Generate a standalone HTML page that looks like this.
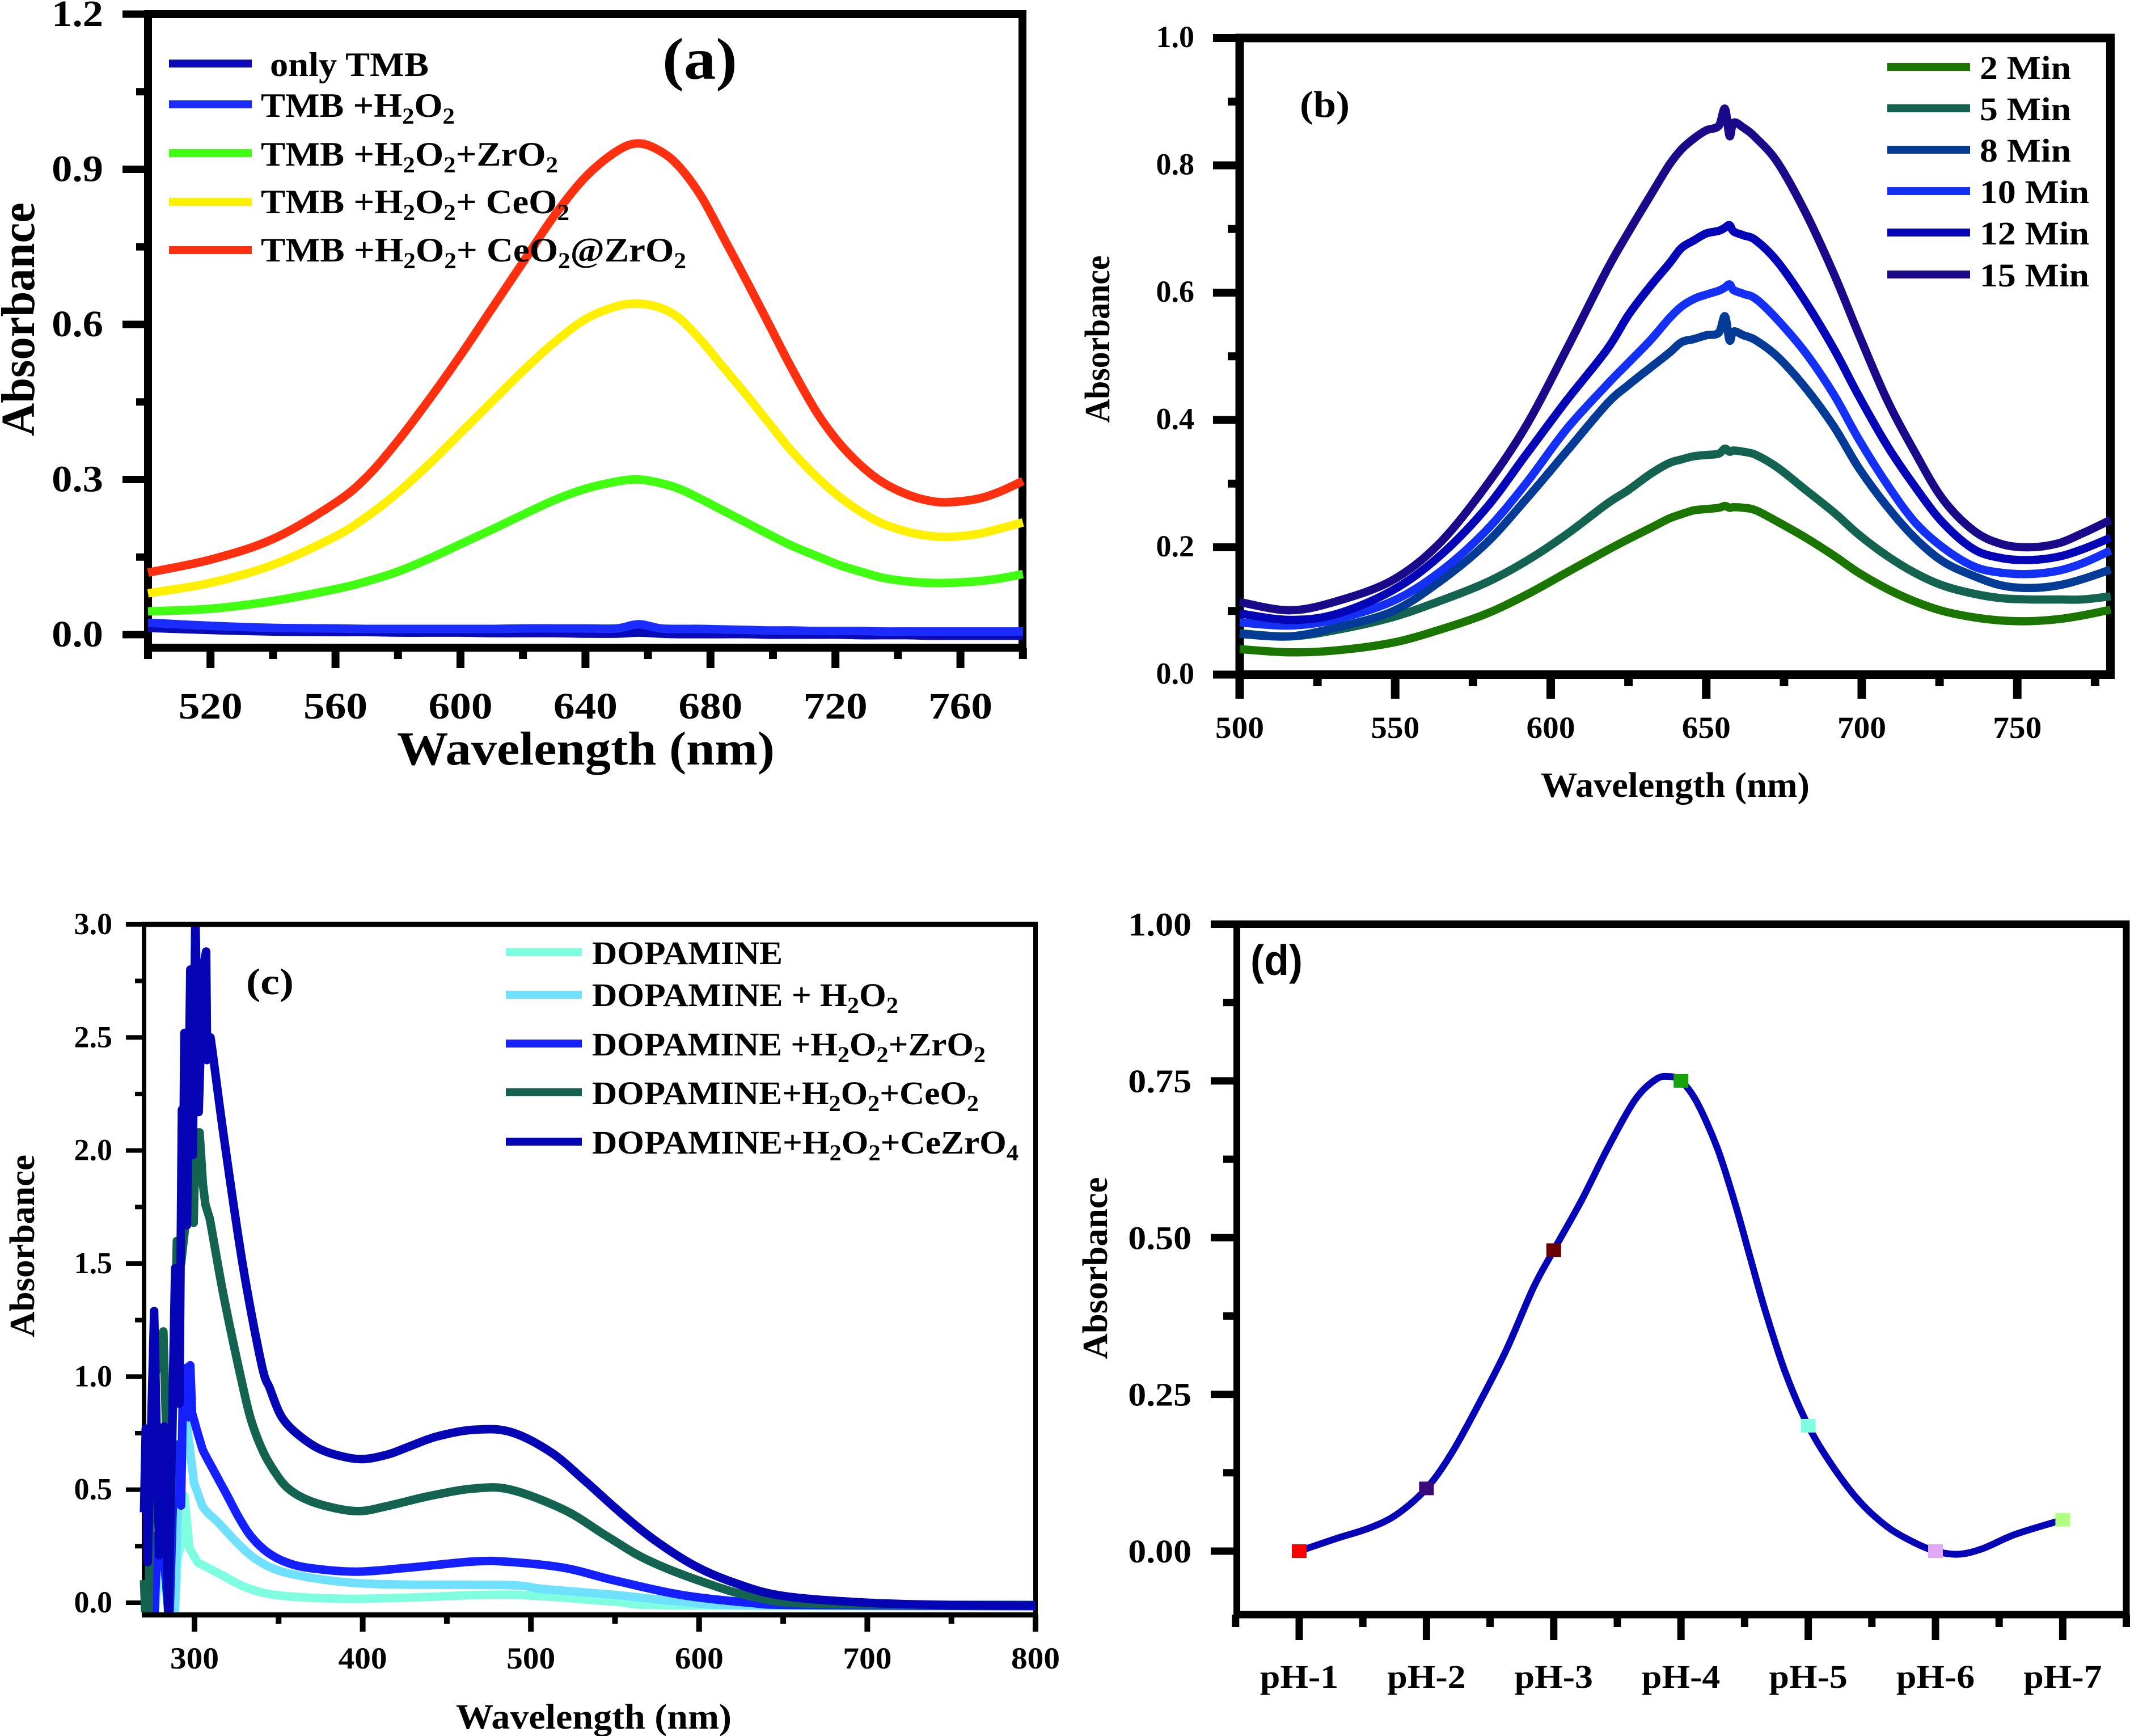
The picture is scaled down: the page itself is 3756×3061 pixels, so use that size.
<!DOCTYPE html>
<html lang="en">
<head>
<meta charset="utf-8">
<title>Absorbance panels</title>
<style>
html,body{margin:0;padding:0;background:#fff}
svg{display:block}
text{font-family:"Liberation Serif",serif;font-weight:bold;fill:#000}
</style>
</head>
<body>
<svg id="fig" xmlns="http://www.w3.org/2000/svg" width="3756" height="3061" viewBox="0 0 3756 3061">
<rect x="0" y="0" width="3756" height="3061" fill="#fff"/>
<defs>
<clipPath id="clipA"><rect x="240" y="18" width="1580" height="1120"/></clipPath>
<clipPath id="clipB"><rect x="2170" y="60" width="1570" height="1124"/></clipPath>
<clipPath id="clipC"><rect x="246" y="1634" width="1590" height="1209"/></clipPath>
<clipPath id="clipD"><rect x="2170" y="1620" width="1586" height="1220"/></clipPath>
</defs>
<g id="panelA"></g>
<g id="panelB"></g>
<g id="panelC"></g>
<g id="panelD"></g>

<g>
<text x="1168" y="139" font-size="104" textLength="132" lengthAdjust="spacingAndGlyphs">(a)</text>
<text x="1033" y="1348" text-anchor="middle" font-size="84" textLength="666" lengthAdjust="spacingAndGlyphs">Wavelength (nm)</text>
<text transform="translate(60 563) rotate(-90)" text-anchor="middle" font-size="84" textLength="412" lengthAdjust="spacingAndGlyphs">Absorbance</text>
<g>
<rect x="298" y="105" width="146" height="14" fill="#0a0ab8"/>
<rect x="298" y="177" width="146" height="14" fill="#1a2cff"/>
<rect x="298" y="263" width="146" height="14" fill="#40ff10"/>
<rect x="298" y="349" width="146" height="14" fill="#fff000"/>
<rect x="298" y="434" width="146" height="14" fill="#ff3010"/>
<text x="476" y="134" font-size="60" textLength="280" lengthAdjust="spacingAndGlyphs">only TMB</text>
<text x="460" y="206" font-size="60" textLength="342" lengthAdjust="spacingAndGlyphs">TMB +H<tspan dy="12" font-size="40">2</tspan><tspan dy="-12">O</tspan><tspan dy="12" font-size="40">2</tspan></text>
<text x="460" y="292" font-size="60" textLength="524" lengthAdjust="spacingAndGlyphs">TMB +H<tspan dy="12" font-size="40">2</tspan><tspan dy="-12">O</tspan><tspan dy="12" font-size="40">2</tspan><tspan dy="-12">+ZrO</tspan><tspan dy="12" font-size="40">2</tspan></text>
<text x="460" y="376" font-size="60" textLength="544" lengthAdjust="spacingAndGlyphs">TMB +H<tspan dy="12" font-size="40">2</tspan><tspan dy="-12">O</tspan><tspan dy="12" font-size="40">2</tspan><tspan dy="-12">+ CeO</tspan><tspan dy="12" font-size="40">2</tspan></text>
<text x="460" y="461" font-size="60" textLength="750" lengthAdjust="spacingAndGlyphs">TMB +H<tspan dy="12" font-size="40">2</tspan><tspan dy="-12">O</tspan><tspan dy="12" font-size="40">2</tspan><tspan dy="-12">+ CeO</tspan><tspan dy="12" font-size="40">2</tspan><tspan dy="-12">@ZrO</tspan><tspan dy="12" font-size="40">2</tspan></text>
</g>
</g>

<g>
<text x="2292" y="206" font-size="66" textLength="88" lengthAdjust="spacingAndGlyphs">(b)</text>
<text x="2954" y="1405" text-anchor="middle" font-size="62" textLength="474" lengthAdjust="spacingAndGlyphs">Wavelength (nm)</text>
<text transform="translate(1956 598) rotate(-90)" text-anchor="middle" font-size="62" textLength="295" lengthAdjust="spacingAndGlyphs">Absorbance</text>
<g>
<rect x="3328" y="111" width="146" height="14" fill="#1a7600"/>
<rect x="3328" y="184" width="146" height="14" fill="#146350"/>
<rect x="3328" y="257" width="146" height="14" fill="#033b96"/>
<rect x="3328" y="330" width="146" height="14" fill="#1430f5"/>
<rect x="3328" y="403" width="146" height="14" fill="#0505b8"/>
<rect x="3328" y="477" width="146" height="14" fill="#1a0a8a"/>
<text x="3491" y="139" font-size="58" textLength="161" lengthAdjust="spacingAndGlyphs">2 Min</text>
<text x="3491" y="212" font-size="58" textLength="161" lengthAdjust="spacingAndGlyphs">5 Min</text>
<text x="3491" y="285" font-size="58" textLength="161" lengthAdjust="spacingAndGlyphs">8 Min</text>
<text x="3491" y="358" font-size="58" textLength="193" lengthAdjust="spacingAndGlyphs">10 Min</text>
<text x="3491" y="431" font-size="58" textLength="193" lengthAdjust="spacingAndGlyphs">12 Min</text>
<text x="3491" y="505" font-size="58" textLength="193" lengthAdjust="spacingAndGlyphs">15 Min</text>
</g>
</g>

<g>
<text x="434" y="1753" font-size="66" textLength="84" lengthAdjust="spacingAndGlyphs">(c)</text>
<text x="1047" y="3048" text-anchor="middle" font-size="62" textLength="486" lengthAdjust="spacingAndGlyphs">Wavelength (nm)</text>
<text transform="translate(60 2197) rotate(-90)" text-anchor="middle" font-size="62" textLength="322" lengthAdjust="spacingAndGlyphs">Absorbance</text>
<g>
<rect x="892" y="1672" width="134" height="14" fill="#80ffe0"/>
<rect x="892" y="1747" width="134" height="14" fill="#70e0ff"/>
<rect x="892" y="1833" width="134" height="14" fill="#1420ff"/>
<rect x="892" y="1919" width="134" height="14" fill="#136350"/>
<rect x="892" y="2006" width="134" height="14" fill="#0505b5"/>
<text x="1044" y="1700" font-size="58" textLength="336" lengthAdjust="spacingAndGlyphs">DOPAMINE</text>
<text x="1044" y="1774" font-size="58" textLength="540" lengthAdjust="spacingAndGlyphs">DOPAMINE + H<tspan dy="12" font-size="40">2</tspan><tspan dy="-12">O</tspan><tspan dy="12" font-size="40">2</tspan></text>
<text x="1044" y="1861" font-size="58" textLength="694" lengthAdjust="spacingAndGlyphs">DOPAMINE +H<tspan dy="12" font-size="40">2</tspan><tspan dy="-12">O</tspan><tspan dy="12" font-size="40">2</tspan><tspan dy="-12">+ZrO</tspan><tspan dy="12" font-size="40">2</tspan></text>
<text x="1044" y="1947" font-size="58" textLength="682" lengthAdjust="spacingAndGlyphs">DOPAMINE+H<tspan dy="12" font-size="40">2</tspan><tspan dy="-12">O</tspan><tspan dy="12" font-size="40">2</tspan><tspan dy="-12">+CeO</tspan><tspan dy="12" font-size="40">2</tspan></text>
<text x="1044" y="2034" font-size="58" textLength="752" lengthAdjust="spacingAndGlyphs">DOPAMINE+H<tspan dy="12" font-size="40">2</tspan><tspan dy="-12">O</tspan><tspan dy="12" font-size="40">2</tspan><tspan dy="-12">+CeZrO</tspan><tspan dy="12" font-size="40">4</tspan></text>
</g>
</g>

<g>
<text x="2205" y="1719" font-size="75" textLength="92" lengthAdjust="spacingAndGlyphs" style="font-family:'Liberation Sans',sans-serif">(d)</text>
<text transform="translate(1952 2236) rotate(-90)" text-anchor="middle" font-size="62" textLength="321" lengthAdjust="spacingAndGlyphs">Absorbance</text>
</g>
</svg>

<script>
/* Panel (a) data */
const aWavelengths=[500,520,540,560,570,580,590,600,610,620,630,640,650,657,664,670,677,684,692,699,706,714,721,728,735,743,750,756,765,772,780];
const aOnlyTmb=[.013,.009,.006,.005,.005,.004,.004,.004,.003,.003,.003,.002,.002,.004,.002,.001,.001,.001,.001,0,0,0,0,-.001,-.001,-.001,-.002,-.002,-.002,-.002,-.002];
const aTmbH2o2=[.023,.017,.013,.012,.011,.011,.011,.011,.011,.012,.012,.012,.012,.02,.012,.011,.011,.010,.009,.008,.008,.007,.007,.007,.006,.006,.006,.006,.006,.006,.006];
const aTmbZro2=[.045,.05,.065,.088,.103,.122,.147,.175,.203,.232,.26,.282,.296,.30,.293,.282,.262,.24,.215,.193,.172,.152,.135,.122,.11,.103,.10,.10,.103,.108,.117];
const aTmbCeo2=[.08,.10,.135,.19,.228,.275,.33,.39,.45,.51,.565,.61,.635,.64,.632,.612,.569,.518,.46,.407,.355,.305,.268,.238,.215,.199,.191,.189,.194,.204,.217];
const aTmbCeZr=[.12,.145,.185,.255,.305,.375,.455,.54,.63,.72,.81,.885,.935,.95,.935,.905,.848,.77,.679,.597,.515,.43,.372,.328,.295,.271,.259,.256,.262,.275,.297];
const aXMajorTicks=[520,560,600,640,680,720,760];
const aXMinorTicks=[500,540,580,620,660,700,740,780];
const aYMajorTicks=[0,.3,.6,.9,1.2];
const aYMinorTicks=[.15,.45,.75,1.05];
const aYTickLabels=['0.0','0.3','0.6','0.9','1.2'];

/* Panel (b) data */
const bWavelengths=[500,516,531,549,564,579,592,605,618,625,632,638,642,646,650,654,656,657.5,658.8,662,666,673,682,691,699,708,717,726,736,745,754,763,771,780];
const bMin2=[.04,.035,.038,.05,.07,.095,.125,.16,.195,.213,.23,.245,.252,.258,.26,.262,.265,.262,.263,.262,.258,.24,.215,.187,.16,.135,.115,.10,.09,.085,.084,.087,.093,.102];
const bMin5=[.065,.06,.07,.09,.115,.144,.178,.22,.268,.29,.315,.332,.338,.343,.345,.347,.355,.35,.352,.35,.345,.325,.29,.255,.22,.187,.16,.14,.127,.12,.118,.118,.118,.123];
const bMin8=[.064,.06,.074,.099,.145,.205,.275,.35,.425,.455,.482,.505,.522,.527,.533,.537,.563,.525,.539,.533,.525,.499,.45,.39,.325,.265,.215,.178,.155,.14,.136,.14,.15,.165];
const bMin10=[.082,.077,.087,.115,.16,.225,.30,.385,.455,.49,.525,.559,.578,.59,.597,.603,.608,.613,.604,.598,.59,.557,.505,.44,.37,.30,.24,.20,.17,.16,.158,.163,.175,.195];
const bMin12=[.096,.086,.095,.132,.185,.26,.345,.43,.51,.565,.61,.645,.67,.682,.693,.697,.702,.706,.696,.69,.682,.648,.585,.512,.438,.361,.296,.239,.197,.183,.18,.185,.197,.215];
const bMin15=[.114,.101,.115,.148,.205,.295,.39,.51,.635,.695,.752,.80,.825,.842,.855,.862,.889,.846,.867,.859,.843,.804,.725,.63,.535,.433,.35,.276,.226,.205,.2,.206,.222,.243];
const bXMajorTicks=[500,550,600,650,700,750];
const bXMinorTicks=[525,575,625,675,725,775];
const bYMajorTicks=[0,.2,.4,.6,.8,1];
const bYMinorTicks=[.1,.3,.5,.7,.9];
const bYTickLabels=['0.0','0.2','0.4','0.6','0.8','1.0'];

/* Panel (c) data */
const cDopamineW=[276,278,280,283,286,288,290,292,294,294.7,297,302,315,330.7,350,388.7,427,488,549,589,800];
const cDopamineA=[-.1,.1,.1,.05,-.1,-.1,.2,.26,.4725,.42,.24,.1775,.1275,.0675,.0325,.0175,.0225,.035,.005,-.012,-.015];
const cPeroxideW=[276,278,280,283,285,288,290,292,294,296,299.7,304.7,315,326.7,337,350,369.5,395,427,488,508,549,589,630,800];
const cPeroxideA=[-.1,.23,.2,.1,-.1,-.1,.4,.5,.92,.755,.53,.4275,.3475,.255,.19,.1425,.11,.0875,.08,.0775,.06,.035,.005,-.012,-.015];
const cZirconiaW=[276,278,280,283,285,287,289,292,293,295.5,296.5,297.5,298.5,301.7,304.7,311,319,326.7,334,343.5,355,369.5,396.5,427.4,466,488,520,549,589,630,660,800];
const cZirconiaA=[-.1,.3,.3,.1,-.1,.4,.7,.43,.9,1.04,.82,1.05,.84,.755,.68,.59,.48,.3725,.29,.2225,.1775,.1525,.1375,.155,.1825,.18,.154,.1,.035,0,-.01,-.015];
const cCeriaW=[270,271,272.5,274.5,276.5,279,281.5,283,284.5,287,289.5,292,295,298,299.5,300.6,303,305,306.5,309,317.5,329,334.4,341,347.6,355,365.5,381,398,414.6,440,466,488,520,545,569,601,633,670,800];
const cCeriaA=[.1,-.1,-.1,.8,1.0,1.1,1.2,.8,-.1,.8,1.6,1.5,1.7,1.8,1.68,2.08,2.08,1.85,1.76,1.7,1.35,.9475,.79,.665,.58,.51,.46,.4225,.405,.4275,.4725,.505,.50,.41,.295,.19,.095,.025,-.005,-.01];
const cMixedW=[270,271,272.2,276,279,282,284.5,288.5,291,292.5,293,294,295.5,297.5,299,300.5,302.5,305,306.9,307.5,309.5,311,318,329,340,344.8,350,355,363,373,383.6,399,414.6,427.4,444,466,488,512,532,553,573,597,621,650,700,750,800];
const cMixedA=[.4,.77,.18,1.29,.21,.78,-.08,1.48,.88,2.18,1.68,2.52,1.67,2.8,1.98,3.05,2.17,2.8,2.88,2.4,2.5,2.42,2.03,1.48,1.05,.9475,.8475,.79,.735,.685,.655,.635,.655,.69,.735,.765,.755,.665,.54,.40,.28,.165,.088,.03,0,-.01,-.012];
const cXMajorTicks=[300,400,500,600,700,800];
const cXMinorTicks=[350,450,550,650,750];
const cYMajorTicks=[0,.5,1,1.5,2,2.5,3];
const cYMinorTicks=[.25,.75,1.25,1.75,2.25,2.75];
const cYTickLabels=['0.0','0.5','1.0','1.5','2.0','2.5','3.0'];

/* Panel (d) data */
const dCategories=['pH-1','pH-2','pH-3','pH-4','pH-5','pH-6','pH-7'];
const dAbsorbance=[0,.1,.48,.75,.2,0,.05];
const dMarkerColors=['#ff0000','#3a0a7a','#6a0000','#16a30a','#80ffe0','#e0aaf8','#b0ff80'];
const dCurvePositions=[1,1.29,1.56,1.77,2,2.2,2.42,2.63,2.84,3,3.22,3.43,3.64,3.8,3.9,4,4.125,4.285,4.42,4.55,4.66,4.82,5,5.19,5.4,5.62,5.83,6,6.18,6.37,6.63,7];
const dCurveValues=[0,.02,.0375,.059,.1,.157,.238,.322,.42,.48,.56,.645,.72,.752,.757,.75,.716,.643,.558,.464,.385,.285,.2,.136,.08,.039,.014,0,-.005,.004,.027,.05];
const dYMajorTicks=[0,.25,.5,.75,1];
const dYMinorTicks=[.125,.375,.625,.875];
const dYTickLabels=['0.00','0.25','0.50','0.75','1.00'];
const dXMinorTicks=[.5,1.5,2.5,3.5,4.5,5.5,6.5,7.5];

const NS='http://www.w3.org/2000/svg';

/* Axis functions */
const xA=w=>261+(w-500)*5.51;
const yA=v=>1119-v*911.7;
const xB=w=>2186+(w-500)*5.485;
const yB=v=>1189.5-v*1122.5;
const xC=w=>343+(w-300)*2.966;
const yC=v=>2826-v*398.7;
const xD=i=>2291+(i-1)*224.4;
const yD=v=>2735-v*1105.5;

function mk(parent,tag){
  const el=document.createElementNS(NS,tag);
  parent.appendChild(el);
  return el;
}
function frame(parent,x0,y0,x1,y1,vw,hw,name){
  const g=mk(parent,'g');
  
  
  const parts=[[x0-vw/2,y0-hw/2,vw,y1-y0+hw],[x1-vw/2,y0-hw/2,vw,y1-y0+hw],[x0-vw/2,y0-hw/2,x1-x0+vw,hw],[x0-vw/2,y1-hw/2,x1-x0+vw,hw]];
  const sides=['left','right','top','bottom'];
  parts.forEach((p,i)=>{
    const r=mk(g,'rect');
    r.setAttribute('x',p[0]);r.setAttribute('y',p[1]);r.setAttribute('width',p[2]);r.setAttribute('height',p[3]);
    r.setAttribute('fill','#000');
    
    
  });
}
function tickLabel(parent,x,y,str,anchor,size,stretch,name){
  const t=mk(parent,'text');
  t.setAttribute('x',x);t.setAttribute('y',y);
  t.setAttribute('text-anchor',anchor);
  t.setAttribute('font-size',size);
  t.textContent=str;
  
  
  const len=t.getComputedTextLength();
  t.setAttribute('textLength',(len*stretch).toFixed(1));
  t.setAttribute('lengthAdjust','spacingAndGlyphs');
  return t;
}
function vTick(parent,x,y0,len,w,name){
  const r=mk(parent,'rect');
  r.setAttribute('x',x-w/2);r.setAttribute('y',y0);r.setAttribute('width',w);r.setAttribute('height',len);
  r.setAttribute('fill','#000');
  
  
}
function hTick(parent,x1,y,len,h,name){
  const r=mk(parent,'rect');
  r.setAttribute('x',x1-len);r.setAttribute('y',y-h/2);r.setAttribute('width',len);r.setAttribute('height',h);
  r.setAttribute('fill','#000');
  
  
}
function pathFor(xs,ys,xf,yf,smoothFrom){
  const p=xs.map((x,i)=>[xf(x),yf(ys[i])]);
  let d='M'+p[0][0].toFixed(1)+' '+p[0][1].toFixed(1);
  for(let i=0;i<p.length-1;i++){
    if(xs[i]<smoothFrom){d+='L'+p[i+1][0].toFixed(1)+' '+p[i+1][1].toFixed(1);continue;}
    const a=p[Math.max(i-1,0)],b=p[i],c=p[i+1],e=p[Math.min(i+2,p.length-1)];
    const c1=[b[0]+(c[0]-a[0])/6,b[1]+(c[1]-a[1])/6],c2=[c[0]-(e[0]-b[0])/6,c[1]-(e[1]-b[1])/6];
    d+='C'+c1[0].toFixed(1)+' '+c1[1].toFixed(1)+' '+c2[0].toFixed(1)+' '+c2[1].toFixed(1)+' '+c[0].toFixed(1)+' '+c[1].toFixed(1);
  }
  return d;
}
function series(parent,xs,ys,xf,yf,color,sw,clip,name,smoothFrom){
  const el=mk(parent,'path');
  el.setAttribute('d',pathFor(xs,ys,xf,yf,smoothFrom||0));
  el.setAttribute('fill','none');
  el.setAttribute('stroke',color);
  el.setAttribute('stroke-width',sw);
  el.setAttribute('stroke-linejoin','round');
  el.setAttribute('clip-path','url(#'+clip+')');
  
  
}

/* ---------- Panel a ---------- */
(function(){
  const g=document.getElementById('panelA');
  frame(g,261,25,1803,1142,14,14,'panel-a-frame');
  aXMajorTicks.forEach(w=>{
    vTick(g,xA(w),1142,36,14,'x-major-tick-'+w);
    tickLabel(g,xA(w),1267,String(w),'middle',66,1.14,'x-tick-label-'+w);
  });
  aXMinorTicks.forEach(w=>vTick(g,xA(w),1142,20,14,'x-minor-tick-'+w));
  aYMajorTicks.forEach((v,i)=>{
    hTick(g,256,yA(v),40,13,'y-major-tick-'+aYTickLabels[i]);
    tickLabel(g,182,yA(v)+21,aYTickLabels[i],'end',66,1.1,'y-tick-label-'+aYTickLabels[i]);
  });
  aYMinorTicks.forEach(v=>hTick(g,256,yA(v),16,13,'y-minor-tick-'+v));
  series(g,aWavelengths,aOnlyTmb,xA,yA,'#0a0ab8',15,'clipA','series-only-tmb');
  series(g,aWavelengths,aTmbH2o2,xA,yA,'#1a2cff',15,'clipA','series-tmb-h2o2');
  series(g,aWavelengths,aTmbZro2,xA,yA,'#40ff10',15,'clipA','series-tmb-h2o2-zro2');
  series(g,aWavelengths,aTmbCeo2,xA,yA,'#fff000',15,'clipA','series-tmb-h2o2-ceo2');
  series(g,aWavelengths,aTmbCeZr,xA,yA,'#ff3010',15,'clipA','series-tmb-h2o2-ceo2-zro2');
})();

/* ---------- Panel b ---------- */
(function(){
  const g=document.getElementById('panelB');
  frame(g,2186,67,3721.5,1189.5,15,15,'panel-b-frame');
  bXMajorTicks.forEach(w=>{
    vTick(g,xB(w),1189,43,15,'x-major-tick-'+w);
    tickLabel(g,xB(w),1301,String(w),'middle',54,1.06,'x-tick-label-'+w);
  });
  bXMinorTicks.forEach(w=>vTick(g,xB(w),1189,21,15,'x-minor-tick-'+w));
  bYMajorTicks.forEach((v,i)=>{
    hTick(g,2180,yB(v),41,14,'y-major-tick-'+bYTickLabels[i]);
    tickLabel(g,2106,yB(v)+16,bYTickLabels[i],'end',54,1.0,'y-tick-label-'+bYTickLabels[i]);
  });
  bYMinorTicks.forEach(v=>hTick(g,2180,yB(v),15,14,'y-minor-tick-'+v));
  series(g,bWavelengths,bMin2,xB,yB,'#1a7600',14.5,'clipB','series-2-min');
  series(g,bWavelengths,bMin5,xB,yB,'#146350',14.5,'clipB','series-5-min');
  series(g,bWavelengths,bMin8,xB,yB,'#033b96',14.5,'clipB','series-8-min',0);
  series(g,bWavelengths,bMin10,xB,yB,'#1430f5',14.5,'clipB','series-10-min');
  series(g,bWavelengths,bMin12,xB,yB,'#0505b8',14.5,'clipB','series-12-min');
  series(g,bWavelengths,bMin15,xB,yB,'#1a0a8a',14.5,'clipB','series-15-min');
})();

/* ---------- Panel c ---------- */
(function(){
  const g=document.getElementById('panelC');
  frame(g,254,1630,1826,2847.5,8,9,'panel-c-frame');
  cXMajorTicks.forEach(w=>{
    vTick(g,xC(w),2847,30,10,'x-major-tick-'+w);
    tickLabel(g,xC(w),2942,String(w),'middle',54,1.06,'x-tick-label-'+w);
  });
  cXMinorTicks.forEach(w=>vTick(g,xC(w),2847,16,10,'x-minor-tick-'+w));
  cYMajorTicks.forEach((v,i)=>{
    hTick(g,250,yC(v),28,8,'y-major-tick-'+cYTickLabels[i]);
    tickLabel(g,198,yC(v)+17,cYTickLabels[i],'end',54,1.0,'y-tick-label-'+cYTickLabels[i]);
  });
  cYMinorTicks.forEach(v=>hTick(g,250,yC(v),12,8,'y-minor-tick-'+v));
  series(g,cDopamineW,cDopamineA,xC,yC,'#80ffe0',15,'clipC','series-dopamine',304);
  series(g,cPeroxideW,cPeroxideA,xC,yC,'#70e0ff',15,'clipC','series-dopamine-h2o2',304);
  series(g,cZirconiaW,cZirconiaA,xC,yC,'#1420ff',15,'clipC','series-dopamine-h2o2-zro2',304);
  series(g,cCeriaW,cCeriaA,xC,yC,'#136350',15,'clipC','series-dopamine-h2o2-ceo2',309);
  series(g,cMixedW,cMixedA,xC,yC,'#0505b5',15,'clipC','series-dopamine-h2o2-cezro4',311);
})();

/* ---------- Panel d ---------- */
(function(){
  const g=document.getElementById('panelD');
  frame(g,2181,1629.5,3749.5,2847,12,13,'panel-d-frame');
  series(g,dCurvePositions,dCurveValues,xD,yD,'#0505b5',12,'clipD','series-ph-curve');
  dCategories.forEach((c,i)=>{
    const r=mk(g,'rect');
    r.setAttribute('x',xD(i+1)-13);r.setAttribute('y',yD(dAbsorbance[i])-12);
    r.setAttribute('width',26);r.setAttribute('height',24);
    r.setAttribute('fill',dMarkerColors[i]);
    
    
    vTick(g,xD(i+1),2847,45,13,'x-major-tick-'+c);
    tickLabel(g,xD(i+1),2976,c,'middle',58,1.1,'x-tick-label-'+c);
  });
  dXMinorTicks.forEach(i=>vTick(g,xD(i),2847,22,13,'x-minor-tick-'+i));
  dYMajorTicks.forEach((v,i)=>{
    hTick(g,2178,yD(v),43,13,'y-major-tick-'+dYTickLabels[i]);
    tickLabel(g,2101,yD(v)+20,dYTickLabels[i],'end',58,1.1,'y-tick-label-'+dYTickLabels[i]);
  });
  dYMinorTicks.forEach(v=>hTick(g,2178,yD(v),21,13,'y-minor-tick-'+v));
})();
</script>
</body>
</html>
